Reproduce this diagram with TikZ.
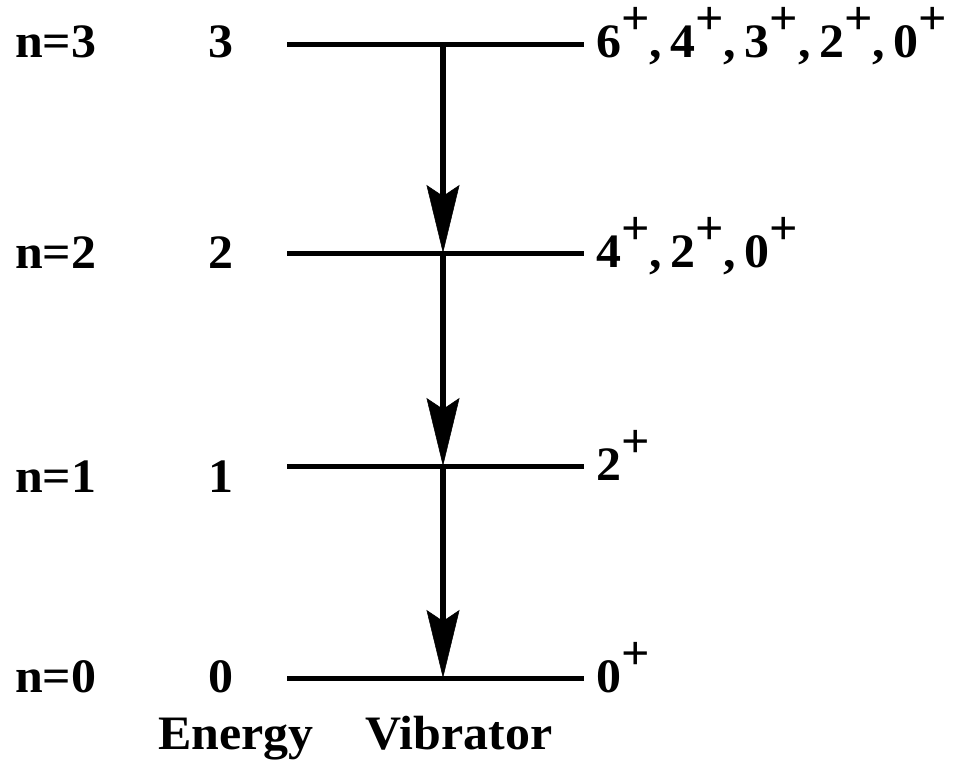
\documentclass[tikz,border=0pt]{standalone}
\usepackage{fontspec}
\setmainfont{Liberation Serif}[FakeStretch=1.04]
\usetikzlibrary{arrows.meta}
\newcommand{\pl}{\smash{\raisebox{22.5pt}{+}}}
\newcommand{\cs}{,\hspace{8.5pt}}
\tikzset{
  lbl/.style={inner sep=0pt, font=\fontsize{48}{52}\selectfont\bfseries},
  levelline/.style={line width=5pt},
  decay/.style={line width=6pt, -{Stealth[length=68pt,width=33pt,inset=11pt,line width=0.5pt]}}
}
\begin{document}
\begin{tikzpicture}[x=1pt,y=-1pt]
\useasboundingbox (0,0) rectangle (953,761);
% level end points
\coordinate (A3) at (287,44);  \coordinate (B3) at (584,44);  \coordinate (M3) at (443,44);
\coordinate (A2) at (287,253); \coordinate (B2) at (584,253); \coordinate (M2) at (443,253);
\coordinate (A1) at (287,466); \coordinate (B1) at (584,466); \coordinate (M1) at (443,466);
\coordinate (A0) at (287,678); \coordinate (B0) at (584,678); \coordinate (M0) at (443,678);
\draw[levelline] (A3) -- (B3);
\draw[levelline] (A2) -- (B2);
\draw[levelline] (A1) -- (B1);
\draw[levelline] (A0) -- (B0);
\draw[decay] (M3) -- (M2);
\draw[decay] (M2) -- (M1);
\draw[decay] (M1) -- (M0);
% left labels
\node[lbl, anchor=base west] (n3) at (15,57) {n=3};
\node[lbl, anchor=base west] (n2) at (15,268) {n=2};
\node[lbl, anchor=base west] (n1) at (15,492) {n=1};
\node[lbl, anchor=base west] (n0) at (15,692) {n=0};
\node[lbl, anchor=base] (e3) at (221,57) {3};
\node[lbl, anchor=base] (e2) at (221,268) {2};
\node[lbl, anchor=base] (e1) at (221,492) {1};
\node[lbl, anchor=base] (e0) at (221,692) {0};
% right labels
\node[lbl, anchor=base west] (j3) at (596,57) {6\pl\cs 4\pl\cs 3\pl\cs 2\pl\cs 0\pl};
\node[lbl, anchor=base west] (j2) at (596,267) {4\pl\cs 2\pl\cs 0\pl};
\node[lbl, anchor=base west] (j1) at (596,480) {2\pl};
\node[lbl, anchor=base west] (j0) at (596,692) {0\pl};
% bottom captions
\node[lbl, anchor=base] (energy) at (236,749) {Energy};
\node[lbl, anchor=base] (vib) at (459,749) {Vibrator};
\end{tikzpicture}
\end{document}
